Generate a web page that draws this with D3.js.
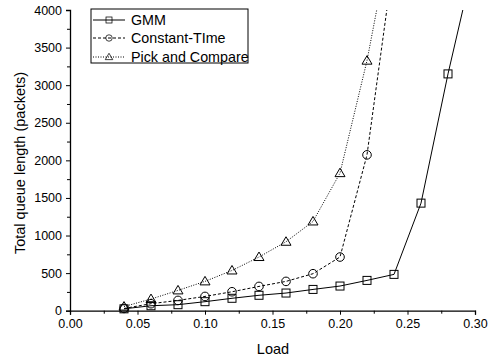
<!DOCTYPE html>
<html><head><meta charset="utf-8">
<script src="https://cdn.jsdelivr.net/npm/d3@7"></script>
<style>body{margin:0;background:#fff}svg{display:block;font-family:"Liberation Sans",Arial,sans-serif}</style>
</head><body>
<svg id="c" width="488" height="361"></svg>
<script>
const loads = [0.04,0.06,0.08,0.10,0.12,0.14,0.16,0.18,0.20,0.22,0.24,0.26,0.28,0.30];
const gmm = [25,66,80,120,165,205,235,283,328,403,483,1431,3150,4700];
const constLoads = [0.04,0.06,0.08,0.10,0.12,0.14,0.16,0.18,0.20,0.22,0.24];
const constantTime = [30,93,137,190,252,323,390,492,714,2073,4700];
const pickLoads = [0.04,0.06,0.08,0.10,0.12,0.14,0.16,0.18,0.20,0.22,0.24];
const pickCompare = [55,155,270,390,535,714,917,1187,1830,3326,5200];
const xTicks = [0,0.05,0.10,0.15,0.20,0.25,0.30];
const yTicks = [0,500,1000,1500,2000,2500,3000,3500,4000];
const seriesNames = ["GMM","Constant-TIme","Pick and Compare"];

const svg = d3.select("#c");
const x = d3.scaleLinear().domain([0,0.30]).range([70,475]);
const y = d3.scaleLinear().domain([0,4000]).range([310.7,10]);

svg.append("defs").append("clipPath").attr("id","clip")
  .append("rect").attr("x",60).attr("y",10).attr("width",420).attr("height",310);

const series = [
  {name:seriesNames[0], xs:loads, ys:gmm, dash:null, sym:"square"},
  {name:seriesNames[1], xs:constLoads, ys:constantTime, dash:"3,2", sym:"circle"},
  {name:seriesNames[2], xs:pickLoads, ys:pickCompare, dash:"1,1.5", sym:"triangle"}
];

function drawSym(g, type, cx, cy){
  if(type==="square") g.append("rect").attr("x",cx-4).attr("y",cy-4).attr("width",8).attr("height",8)
    .attr("fill","none").attr("stroke","#000").attr("stroke-width",1);
  else if(type==="circle") g.append("circle").attr("cx",cx).attr("cy",cy).attr("r",4.3)
    .attr("fill","none").attr("stroke","#000").attr("stroke-width",1);
  else g.append("path").attr("d",`M${cx},${cy-5}L${cx+5},${cy+3.5}L${cx-5},${cy+3.5}Z`)
    .attr("fill","none").attr("stroke","#000").attr("stroke-width",1);
}

const plot = svg.append("g").attr("clip-path","url(#clip)");
series.forEach(s=>{
  const pts = s.xs.map((v,i)=>[v,s.ys[i]]);
  plot.append("path").datum(pts)
    .attr("d", d3.line().x(d=>x(d[0])).y(d=>y(d[1])))
    .attr("fill","none").attr("stroke","#000").attr("stroke-width",1)
    .attr("stroke-dasharray", s.dash);
  pts.filter(d=>d[1]<=4000).forEach(d=>drawSym(plot, s.sym, x(d[0]), y(d[1])));
});

// axes
const xAxis = svg.append("g").attr("transform","translate(0,310.7)")
  .call(d3.axisBottom(x).tickValues(xTicks).tickFormat(d3.format(".2f")).tickSizeOuter(0).tickSize(4).tickPadding(4));
const xMinor = svg.append("g").attr("transform","translate(0,310.7)")
  .call(d3.axisBottom(x).tickValues([0.025,0.075,0.125,0.175,0.225,0.275]).tickFormat("").tickSize(3).tickSizeOuter(0));
xMinor.select(".domain").remove();
const yAxis = svg.append("g").attr("transform","translate(70,0)")
  .call(d3.axisLeft(y).tickValues(yTicks).tickFormat(d3.format("d")).tickSizeOuter(0).tickSize(4).tickPadding(4));
const yMinor = svg.append("g").attr("transform","translate(70,0)")
  .call(d3.axisLeft(y).tickValues([250,750,1250,1750,2250,2750,3250,3750]).tickFormat("").tickSize(3).tickSizeOuter(0));
yMinor.select(".domain").remove();
svg.selectAll(".tick text").attr("font-size",12.5).attr("font-family","Liberation Sans, Arial, sans-serif").attr("fill","#000");
svg.selectAll(".domain").attr("stroke","#000").attr("stroke-width",1.3);

svg.append("text").attr("x",273).attr("y",354).attr("text-anchor","middle")
  .attr("font-size",14.5).text("Load");
svg.append("text").attr("transform","translate(25,163) rotate(-90)").attr("text-anchor","middle")
  .attr("font-size",14.5).text("Total queue length (packets)");

// legend
const lg = svg.append("g");
lg.append("rect").attr("x",91).attr("y",9).attr("width",157).attr("height",54)
  .attr("fill","#fff").attr("stroke","#000").attr("stroke-width",1);
const rowY = [20,38,57];
series.forEach((s,i)=>{
  lg.append("line").attr("x1",93).attr("x2",125).attr("y1",rowY[i]).attr("y2",rowY[i])
    .attr("stroke","#000").attr("stroke-width",1).attr("stroke-dasharray",s.dash);
  const sg = lg.append("g").attr("transform",`translate(109,${rowY[i]}) scale(0.75)`);
  drawSym(sg, s.sym, 0, 0);
  lg.append("text").attr("x",131).attr("y",rowY[i]+5).attr("font-size",14.3).text(s.name);
});
</script>
</body></html>
